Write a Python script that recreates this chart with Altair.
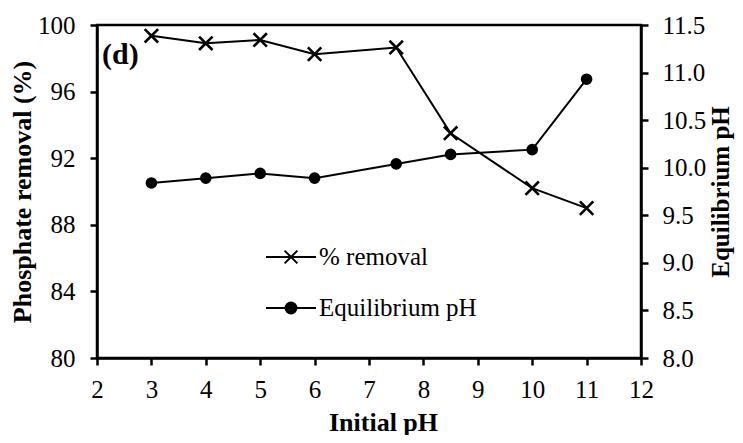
import altair as alt
import pandas as pd

initial_ph = [3, 4, 5, 6, 7.5, 8.5, 10, 11]
removal_pct = [99.35, 98.9, 99.1, 98.25, 98.65, 93.5, 90.2, 89.0]
equilibrium_ph = [9.84, 9.89, 9.94, 9.89, 10.04, 10.14, 10.19, 10.93]
series_names = ["% removal", "Equilibrium pH"]
x_ticks = [2, 3, 4, 5, 6, 7, 8, 9, 10, 11, 12]
left_ticks = [80, 84, 88, 92, 96, 100]
right_ticks = [8.0, 8.5, 9.0, 9.5, 10.0, 10.5, 11.0, 11.5]
panel_label = "(d)"

font = "Liberation Serif"
ink = "black"

# diagonal cross marker
x_marker = "M-1,-1L1,1M-1,1L1,-1"
# legend symbols: short line with the marker on it (dot built from rings)
legend_shapes = [
    "M-1.25,0H1.25M-0.32,-0.32L0.32,0.32M-0.32,0.32L0.32,-0.32",
    "M-1.25,0H1.25"
    "M0.275,0A0.275,0.275,0,1,1,-0.275,0A0.275,0.275,0,1,1,0.275,0"
    "M0.175,0A0.175,0.175,0,1,1,-0.175,0A0.175,0.175,0,1,1,0.175,0"
    "M0.075,0A0.075,0.075,0,1,1,-0.075,0A0.075,0.075,0,1,1,0.075,0",
]

df = pd.DataFrame({"initial": initial_ph, "removal": removal_pct, "eq": equilibrium_ph})
legend_df = pd.DataFrame({"series": series_names})
label_df = pd.DataFrame({"label": [panel_label]})

x_enc = alt.X(
    "initial:Q",
    scale=alt.Scale(domain=[2, 12], nice=False),
    axis=alt.Axis(values=x_ticks, title="Initial pH", titlePadding=7, titleX=286, labelPadding=12),
)

y_left = alt.Y(
    "removal:Q",
    scale=alt.Scale(domain=[80, 100], nice=False, zero=False),
    axis=alt.Axis(values=left_ticks, title="Phosphate removal (%)", titlePadding=2, labelPadding=15),
)
y_right = alt.Y(
    "eq:Q",
    scale=alt.Scale(domain=[8, 11.5], nice=False, zero=False),
    axis=alt.Axis(
        values=right_ticks, format=".1f", orient="right", labelPadding=14,
        title="Equilibrium pH", titlePadding=3, titleAngle=270, titleBaseline="top",
        titleFontSize=25,
    ),
)

base = alt.Chart(df)

removal_line = base.mark_line(color=ink, strokeWidth=2).encode(x=x_enc, y=y_left)
removal_pts = base.mark_point(
    shape=x_marker, size=180, color=ink, strokeWidth=2.6, filled=False, opacity=1
).encode(x=x_enc, y=y_left)

legend_layer = (
    alt.Chart(legend_df)
    .mark_point(filled=False, color=ink, strokeWidth=2, opacity=0)
    .encode(
        shape=alt.Shape(
            "series:N",
            sort=series_names,
            scale=alt.Scale(domain=series_names, range=legend_shapes),
            legend=alt.Legend(
                title=None,
                orient="none",
                legendX=173,
                legendY=211,
                symbolSize=1600,
                symbolOpacity=1,
                symbolStrokeColor=ink,
                symbolStrokeWidth=2,
                labelFont=font,
                labelFontSize=25,
                labelColor=ink,
                labelOffset=7,
                rowPadding=17,
                padding=0,
            ),
        )
    )
)

panel_text = (
    alt.Chart(label_df)
    .mark_text(font=font, fontSize=30, fontWeight="bold", align="left", baseline="alphabetic", color=ink)
    .encode(text="label:N", x=alt.value(5), y=alt.value(39))
)

left = alt.layer(removal_line, removal_pts, legend_layer, panel_text)

ph_line = base.mark_line(color=ink, strokeWidth=2).encode(x=x_enc, y=y_right)
ph_pts = base.mark_circle(size=135, color=ink, opacity=1).encode(x=x_enc, y=y_right)
right = alt.layer(ph_line, ph_pts)

chart = (
    alt.layer(left, right)
    .resolve_scale(y="independent")
    .properties(
        width=544,
        height=333,
        autosize=alt.AutoSizeParams(type="none"),
        padding={"left": 89, "top": 17, "right": 94, "bottom": 77},
    )
    .configure_view(stroke=ink, strokeWidth=2.5)
    .configure_axis(
        grid=False,
        labelFont=font,
        labelFontSize=25,
        labelColor=ink,
        labelFlush=False,
        labelOverlap=False,
        titleFont=font,
        titleFontSize=26,
        titleFontWeight="bold",
        titleColor=ink,
        domainColor=ink,
        domainWidth=2.5,
        tickColor=ink,
        tickWidth=2.5,
        tickSize=7,
    )
)

chart.save("out.html", embed_options={"renderer": "svg", "actions": False})
